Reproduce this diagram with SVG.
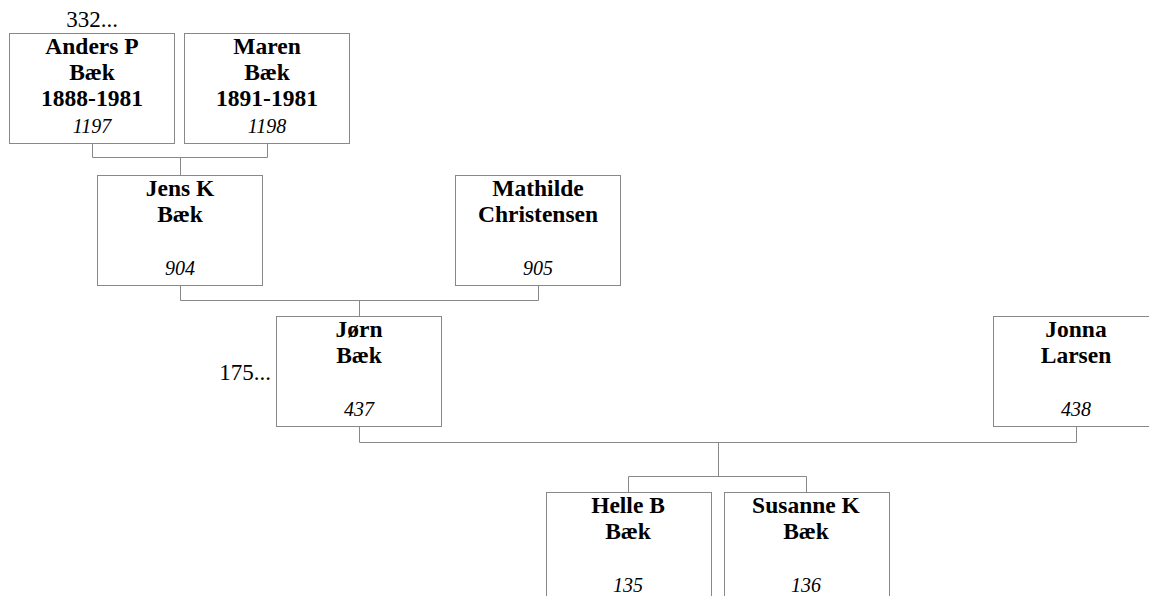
<svg xmlns="http://www.w3.org/2000/svg" width="1149" height="596" viewBox="0 0 1149 596">
<style>
.box{fill:#fff;stroke:#888;stroke-width:1}
.n{font-family:'Liberation Serif',Tinos,'Times New Roman',Times,'DejaVu Serif',serif;font-weight:700;font-size:23.5px;text-anchor:middle;fill:#000}
.id{font-family:'Liberation Serif',Tinos,'Times New Roman',Times,'DejaVu Serif',serif;font-style:italic;font-size:20px;text-anchor:middle;fill:#000}
.t{font-family:'Liberation Serif',Tinos,'Times New Roman',Times,'DejaVu Serif',serif;font-size:23px;fill:#000}
.c{fill:none;stroke:#888;stroke-width:1}
</style>
<rect width="1149" height="596" fill="#fff"/>
<g id="connectors">
<path class="c" d="M92.5 143V157.5H267.5V143M180.5 157.5V175"/>
<path class="c" d="M180.5 285V300.5H538.5V285M359.5 300.5V316"/>
<path class="c" d="M359.5 426V442.5H1076.5V426M718.5 442.5V476.5M628.5 476.5H806.5M628.5 476.5V492M806.5 476.5V492"/>
</g>
<g id="n1197">
<text class="t" x="92" y="27" text-anchor="middle">332...</text>
<rect class="box" x="9.5" y="33.5" width="165" height="110"/>
<text class="n" x="92" y="54">Anders P</text>
<text class="n" x="92" y="80">Bæk</text>
<text class="n" x="92" y="106">1888-1981</text>
<text class="id" x="92" y="133">1197</text>
</g>
<g id="n1198">
<rect class="box" x="184.5" y="33.5" width="165" height="110"/>
<text class="n" x="267" y="54">Maren</text>
<text class="n" x="267" y="80">Bæk</text>
<text class="n" x="267" y="106">1891-1981</text>
<text class="id" x="267" y="133">1198</text>
</g>
<g id="n904">
<rect class="box" x="97.5" y="175.5" width="165" height="110"/>
<text class="n" x="180" y="196">Jens K</text>
<text class="n" x="180" y="222">Bæk</text>
<text class="id" x="180" y="275">904</text>
</g>
<g id="n905">
<rect class="box" x="455.5" y="175.5" width="165" height="110"/>
<text class="n" x="538" y="196">Mathilde</text>
<text class="n" x="538" y="222">Christensen</text>
<text class="id" x="538" y="275">905</text>
</g>
<g id="n437">
<text class="t" x="271" y="380" text-anchor="end">175...</text>
<rect class="box" x="276.5" y="316.5" width="165" height="110"/>
<text class="n" x="359" y="337">Jørn</text>
<text class="n" x="359" y="363">Bæk</text>
<text class="id" x="359" y="416">437</text>
</g>
<g id="n438">
<rect class="box" x="993.5" y="316.5" width="165" height="110"/>
<text class="n" x="1076" y="337">Jonna</text>
<text class="n" x="1076" y="363">Larsen</text>
<text class="id" x="1076" y="416">438</text>
</g>
<g id="n135">
<rect class="box" x="546.5" y="492.5" width="165" height="110"/>
<text class="n" x="628" y="513">Helle B</text>
<text class="n" x="628" y="539">Bæk</text>
<text class="id" x="628" y="592">135</text>
</g>
<g id="n136">
<rect class="box" x="724.5" y="492.5" width="165" height="110"/>
<text class="n" x="806" y="513">Susanne K</text>
<text class="n" x="806" y="539">Bæk</text>
<text class="id" x="806" y="592">136</text>
</g>
</svg>
